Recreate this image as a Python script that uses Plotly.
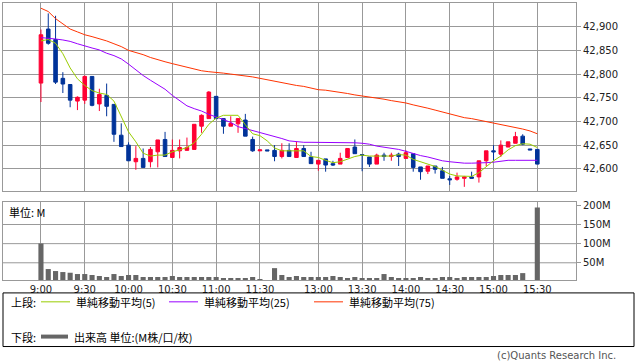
import plotly.graph_objects as go

times = ["9:00","9:05","9:10","9:15","9:20","9:25","9:30","9:35","9:40","9:45","9:50","9:55",
         "10:00","10:05","10:10","10:15","10:20","10:25","10:30","10:35","10:40","10:45","10:50","10:55",
         "11:00","11:05","11:10","11:15","11:20","11:25","11:30",
         "12:25",
         "12:30","12:35","12:40","12:45","12:50","12:55",
         "13:00","13:05","13:10","13:15","13:20","13:25","13:30","13:35","13:40","13:45","13:50","13:55",
         "14:00","14:05","14:10","14:15","14:20","14:25","14:30","14:35","14:40","14:45","14:50","14:55",
         "15:00","15:05","15:10","15:15","15:20","15:25","15:30"]

open_ = [42781,42895,42873,42791,42778,42743,42745,42795,42737,42755,42736,42671,42650,42615,42622,42615,
         42636,42662,42624,42638,42639,42641,42690,42706,42753,42706,42690,42695,42703,42662,42638,42640,
         42639,42626,42639,42624,42643,42625,42610,42621,42611,42610,42624,42646,42630,42625,42610,42629,
         42626,42631,42622,42632,42604,42595,42606,42596,42579,42578,42580,42583,42583,42617,42638,42631,
         42646,42654,42669,42642,42641]
high = [42894,42928,42923,42804,42778,42753,42797,42795,42769,42780,42736,42696,42656,42648,42643,42646,
        42661,42678,42662,42662,42666,42694,42715,42764,42753,42706,42711,42706,42716,42668,42640,42640,
        42650,42654,42654,42657,42650,42636,42618,42621,42617,42634,42643,42662,42631,42625,42632,42634,
        42634,42634,42639,42632,42604,42606,42606,42604,42585,42592,42585,42594,42617,42638,42650,42660,
        42657,42678,42673,42642,42641]
low = [42741,42862,42779,42760,42730,42724,42737,42732,42722,42711,42657,42647,42617,42598,42603,42603,
       42603,42626,42624,42622,42639,42641,42676,42706,42706,42674,42690,42676,42669,42636,42638,42638,
       42616,42622,42626,42624,42626,42611,42596,42594,42606,42610,42624,42632,42595,42604,42610,42617,
       42617,42606,42622,42594,42577,42589,42590,42580,42566,42575,42562,42580,42571,42606,42618,42625,
       42646,42654,42650,42640,42610]
close = [42883,42865,42783,42779,42745,42751,42795,42734,42757,42732,42673,42647,42617,42622,42603,42641,
         42661,42626,42639,42645,42645,42694,42713,42762,42706,42690,42696,42706,42669,42638,42640,42638,
         42626,42639,42626,42643,42626,42611,42618,42608,42608,42622,42643,42632,42629,42610,42629,42626,
         42629,42626,42634,42603,42594,42606,42599,42580,42577,42583,42583,42580,42617,42638,42636,42650,
         42657,42668,42652,42640,42610]

sma5 = [42870,42873,42865,42843,42813,42790,42776,42765,42760,42757,42743,42711,42678,42657,42633,42627,
        42629,42629,42636,42640,42645,42655,42673,42694,42707,42713,42713,42713,42693,42674,42670,42659,
        42644,42638,42638,42638,42638,42626,42624,42618,42613,42615,42621,42626,42629,42627,42627,42627,
        42627,42630,42629,42620,42615,42609,42605,42597,42589,42585,42584,42584,42592,42605,42617,42627,
        42640,42649,42653,42652,42645]
sma25 = [42877,42876,42874,42872,42869,42864,42859,42855,42851,42844,42839,42832,42821,42808,42797,42787,
         42777,42768,42755,42743,42733,42727,42722,42715,42710,42704,42698,42689,42685,42681,42677,42673,
         42669,42664,42659,42657,42656,42656,42656,42656,42655,42655,42655,42655,42654,42652,42648,42646,
         42644,42641,42637,42632,42628,42625,42621,42617,42615,42613,42612,42612,42612,42613,42614,42616,
         42618,42618,42618,42618,42618]
sma75 = [42939,42932,42917,42905,42895,42889,42883,42879,42875,42870,42864,42858,42850,42846,42841,42835,
         42830,42826,42822,42818,42814,42810,42807,42805,42804,42802,42800,42798,42797,42794,42791,42788,
         42784,42782,42779,42776,42774,42771,42767,42766,42764,42762,42759,42756,42754,42751,42749,42747,
         42744,42742,42739,42735,42732,42728,42724,42720,42715,42711,42708,42706,42703,42700,42697,42693,
         42690,42687,42684,42680,42674]

volume = [100.5,33.6,28.4,25.8,24,20.6,20.6,18,15.4,12.8,20.6,15.4,18,18,12.8,12.8,12.8,12.8,15.4,12.8,
          12.8,12.8,12.8,12.8,12.8,10.2,10.2,10.2,10.2,12.8,7.6,0,36,18,12.8,15.4,12.8,12.8,12.8,12.8,
          15.4,12.8,10.2,12.8,10.2,10.2,10.2,20.6,12.8,10.2,10.2,10.2,12.8,10.2,10.2,12.8,12.8,10.2,12.8,
          12.8,12.8,12.8,15.4,18,18,18,23,0,194.5]

tick_times = ["9:00","9:30","10:00","10:30","11:00","11:30","13:00","13:30","14:00","14:30","15:00","15:30"]
price_ticks = [42600, 42650, 42700, 42750, 42800, 42850, 42900]
vol_ticks = [50, 100, 150, 200]
vol_tick_labels = ["50M", "100M", "150M", "200M"]

RED = "#ff0033"
BLUE = "#003399"
GRID = "#999999"
TICKFONT = dict(family="DejaVu Sans", size=10, color="#222222")
JP = "Noto Sans CJK JP"
LEGFONT = dict(family=JP, size=11, color="#000000")

fig = go.Figure()
fig.add_trace(go.Candlestick(
    x=times, open=open_, high=high, low=low, close=close,
    increasing=dict(line=dict(color=RED, width=1), fillcolor=RED),
    decreasing=dict(line=dict(color=BLUE, width=1), fillcolor=BLUE),
    xaxis="x", yaxis="y", showlegend=False))
fig.add_trace(go.Scatter(x=times, y=sma75, mode="lines", line=dict(color="#ff3300", width=1),
                         xaxis="x", yaxis="y", showlegend=False))
fig.add_trace(go.Scatter(x=times, y=sma25, mode="lines", line=dict(color="#9900ff", width=1),
                         xaxis="x", yaxis="y", showlegend=False))
fig.add_trace(go.Scatter(x=times, y=sma5, mode="lines", line=dict(color="#99cc00", width=1),
                         xaxis="x", yaxis="y", showlegend=False))
fig.add_trace(go.Bar(x=times, y=volume, marker=dict(color="#666666", line=dict(width=0)),
                     xaxis="x2", yaxis="y2", showlegend=False))

axis_common = dict(showline=True, mirror=True, linecolor=GRID, linewidth=1,
                   gridcolor=GRID, gridwidth=1, zeroline=False)

fig.update_layout(
    width=638, height=362,
    margin=dict(l=3, r=62, t=1, b=82),
    paper_bgcolor="white", plot_bgcolor="white",
    boxgap=0.3, bargap=0.3, hovermode=False,
    xaxis=dict(domain=[0, 1], anchor="y", type="category", range=[-5.2, 73.3],
               tickvals=tick_times, showticklabels=False, showgrid=True,
               rangeslider=dict(visible=False), ticks="", **axis_common),
    xaxis2=dict(domain=[0, 1], anchor="y2", type="category", matches="x",
                tickvals=tick_times, ticktext=tick_times, showticklabels=True, showgrid=True,
                ticks="", tickfont=TICKFONT, **axis_common),
    yaxis=dict(domain=[0.3226, 1], anchor="x", side="right", range=[42554, 42950],
               tickvals=price_ticks, tickformat=",d", ticks="outside", ticklen=4, tickcolor=GRID,
               showgrid=True, tickfont=TICKFONT, **axis_common),
    yaxis2=dict(domain=[0, 0.2832], anchor="x2", side="right", range=[5, 210],
                tickvals=vol_ticks, ticktext=vol_tick_labels, ticks="outside", ticklen=4,
                tickcolor=GRID, showgrid=False, tickfont=TICKFONT, **axis_common),
)

# volume gridlines (no gridline at 200M)
for v in vol_ticks[:-1]:
    fig.add_shape(type="line", xref="x2 domain", yref="y2", x0=0, x1=1, y0=v, y1=v,
                  line=dict(color=GRID, width=1), layer="below")

fig.add_annotation(text="単位: M", xref="paper", yref="paper", x=0.007, y=0.2832,
                   xanchor="left", yanchor="top", showarrow=False,
                   font=dict(family=JP, size=11, color="#000000"), yshift=0)


def px(x):
    return (x - 3) / 573.0


def py(y):
    return (280 - y) / 279.0


fig.add_shape(type="rect", xref="paper", yref="paper", x0=px(3), x1=px(634), y0=py(293), y1=py(347),
              line=dict(color="#000000", width=1), fillcolor="rgba(0,0,0,0)")

legend_items = [("単純移動平均(5)", "#99cc00", 41),
                ("単純移動平均(25)", "#9900ff", 169),
                ("単純移動平均(75)", "#ff3300", 314)]
fig.add_annotation(text="上段:", xref="paper", yref="paper", x=px(9), y=py(302), xanchor="left",
                   yanchor="middle", showarrow=False, font=LEGFONT)
for label, col, x0 in legend_items:
    fig.add_shape(type="line", xref="paper", yref="paper", x0=px(x0), x1=px(x0 + 29),
                  y0=py(302), y1=py(302), line=dict(color=col, width=1))
    fig.add_annotation(text=label, xref="paper", yref="paper", x=px(x0 + 33), y=py(302),
                       xanchor="left", yanchor="middle", showarrow=False, font=LEGFONT)
fig.add_annotation(text="下段:", xref="paper", yref="paper", x=px(9), y=py(337), xanchor="left",
                   yanchor="middle", showarrow=False, font=LEGFONT)
fig.add_shape(type="line", xref="paper", yref="paper", x0=px(41), x1=px(68), y0=py(337), y1=py(337),
              line=dict(color="#666666", width=4))
fig.add_annotation(text="出来高 単位:(M株/口/枚)", xref="paper", yref="paper", x=px(72), y=py(337),
                   xanchor="left", yanchor="middle", showarrow=False, font=LEGFONT)
fig.add_annotation(text="(c)Quants Research Inc.", xref="paper", yref="paper", x=px(618), y=py(356),
                   xanchor="right", yanchor="middle", showarrow=False,
                   font=dict(family="DejaVu Sans", size=10, color="#555555"))

fig.write_html("out.html", config={"displayModeBar": False, "staticPlot": True},
               post_script="document.body.style.margin='0';document.body.style.padding='0';")
